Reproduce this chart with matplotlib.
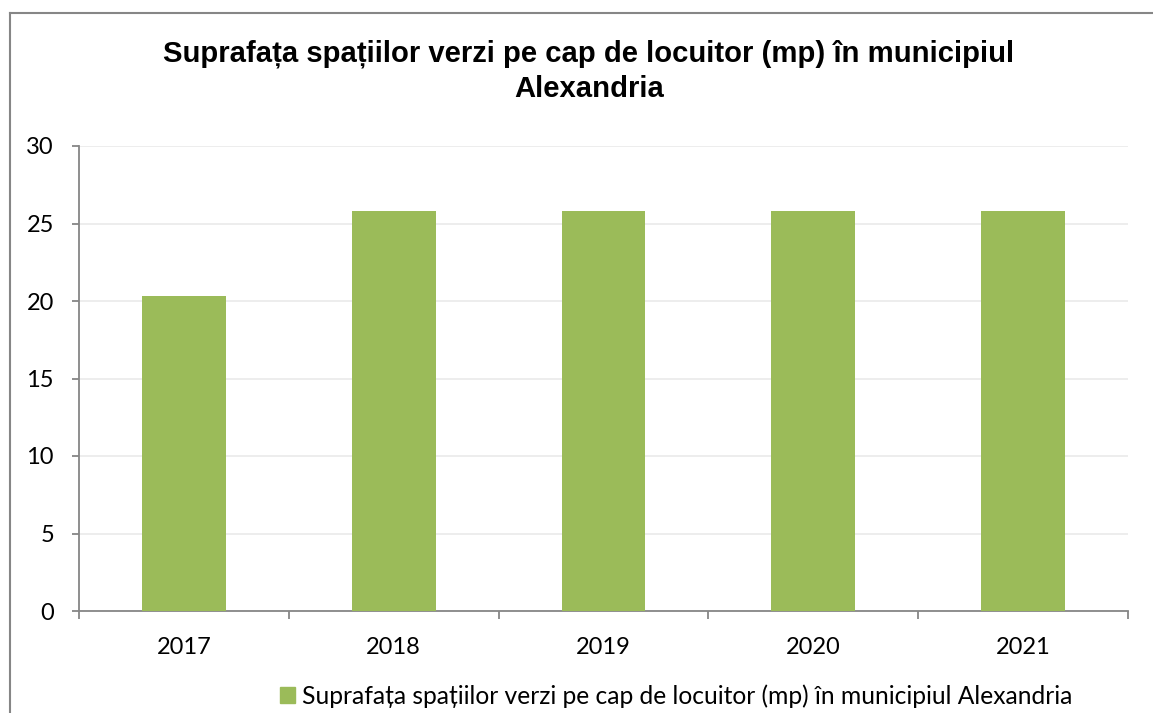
import matplotlib.pyplot as plt
from matplotlib.lines import Line2D

years = ['2017', '2018', '2019', '2020', '2021']
values = [20.3, 25.8, 25.8, 25.8, 25.8]
title_lines = ['Suprafața spațiilor verzi pe cap de locuitor (mp) în municipiul',
               'Alexandria']
series_name = 'Suprafața spațiilor verzi pe cap de locuitor (mp) în municipiul Alexandria'

green = '#9BBB59'
axis_grey = '#868686'
W, H = 1153, 713

fig = plt.figure(figsize=(W / 100, H / 100), dpi=100)
ax = fig.add_axes([79 / W, 1 - 611 / H, (1128 - 79) / W, (611 - 146) / H])

x = list(range(len(years)))
ax.bar(x, values, width=0.4, color=green, zorder=3)

ax.set_xlim(-0.5, len(years) - 0.5)
ax.set_ylim(0, 30)
ax.set_yticks(range(0, 31, 5))
ax.set_xticks(x)
ax.set_xticklabels(years)
ax.set_xticks([i - 0.5 for i in range(len(years) + 1)], minor=True)

for lab in ax.get_xticklabels() + ax.get_yticklabels():
    lab.set_fontfamily(['Lato', 'DejaVu Sans'])
    lab.set_fontsize(17)

ax.tick_params(axis='x', which='major', length=0, pad=19)
ax.tick_params(axis='x', which='minor', length=6, color=axis_grey, width=1.3)
ax.tick_params(axis='y', length=5, color=axis_grey, width=1.3, pad=13)

ax.grid(axis='y', color='#ececec', linewidth=1.3, zorder=0)
for s in ['top', 'right']:
    ax.spines[s].set_visible(False)
for s in ['left', 'bottom']:
    ax.spines[s].set_color(axis_grey)
    ax.spines[s].set_linewidth(1.3)

# title, two lines
for line, base in zip(title_lines, [61, 97]):
    fig.text(589 / W, 1 - base / H, line, ha='center', va='baseline',
             family=['Liberation Sans', 'DejaVu Sans'], fontweight='bold',
             fontsize=21.1)

# legend
ax.legend([plt.Rectangle((0, 0), 1, 1, color=green)], [series_name],
          loc='center', bbox_to_anchor=(676 / W, 1 - 696 / H),
          bbox_transform=fig.transFigure, frameon=False,
          prop={'family': ['Lato', 'DejaVu Sans'], 'size': 17.7},
          handlelength=0.61, handleheight=0.61, handletextpad=0.28)

# outer chart border (left and top visible)
fig.add_artist(Line2D([10 / W, 10 / W], [0, 1 - 13 / H], color=axis_grey,
                      linewidth=1.5, transform=fig.transFigure))
fig.add_artist(Line2D([10 / W, 1], [1 - 13 / H, 1 - 13 / H], color=axis_grey,
                      linewidth=1.5, transform=fig.transFigure))

fig.savefig('out.png', dpi=100)
